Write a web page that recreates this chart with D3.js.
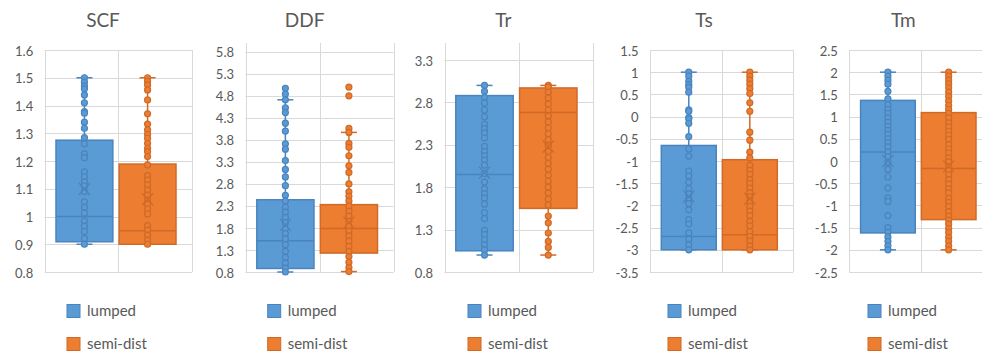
<!DOCTYPE html>
<html>
<head>
<meta charset="utf-8">
<script src="https://cdn.jsdelivr.net/npm/d3@7"></script>
<style>
  body { margin: 0; background: #fff; }
  svg { display: block; font-family: Lato, "Open Sans", sans-serif; }
</style>
</head>
<body>
<div id="chart"></div>
<script>
// data
const seriesNames = ['lumped', 'semi-dist'];
const titles = ['SCF', 'DDF', 'Tr', 'Ts', 'Tm'];

const scfLumped = [1.5, 1.484, 1.47, 1.46, 1.438, 1.41, 1.378, 1.372, 1.34, 1.318, 1.284, 1.262, 1.226, 1.212, 1.161, 1.143, 1.125, 1.11, 1.09, 1.053, 1.033, 1.012, 0.984, 0.965, 0.946, 0.921, 0.9];
const scfSemi = [1.5, 1.487, 1.474, 1.456, 1.42, 1.37, 1.333, 1.312, 1.296, 1.282, 1.264, 1.246, 1.234, 1.216, 1.186, 1.147, 1.131, 1.114, 1.095, 1.077, 1.059, 1.044, 1.027, 1.009, 0.967, 0.951, 0.933, 0.915, 0.9];

const ddfLumped = [4.97, 4.84, 4.71, 4.53, 4.42, 4.18, 4.0, 3.71, 3.59, 3.33, 3.13, 2.96, 2.76, 2.54, 2.41, 2.27, 2.16, 2.04, 1.92, 1.78, 1.67, 1.55, 1.42, 1.27, 1.13, 1.0, 0.89, 0.8];
const ddfSemi = [5.0, 4.8, 4.06, 3.97, 3.72, 3.63, 3.44, 3.21, 3.06, 2.8, 2.62, 2.52, 2.41, 2.3, 2.18, 2.07, 1.95, 1.84, 1.73, 1.62, 1.5, 1.38, 1.27, 1.15, 1.02, 0.9, 0.81];

const trLumped = [3.0, 2.93, 2.86, 2.79, 2.71, 2.63, 2.54, 2.49, 2.44, 2.38, 2.28, 2.22, 2.17, 2.12, 2.06, 1.96, 1.86, 1.78, 1.72, 1.67, 1.6, 1.5, 1.43, 1.29, 1.24, 1.18, 1.12, 1.06, 1.0];
const trSemi = [3.0, 2.98, 2.92, 2.85, 2.78, 2.71, 2.64, 2.57, 2.5, 2.43, 2.36, 2.29, 2.22, 2.15, 2.08, 2.01, 1.94, 1.87, 1.8, 1.73, 1.66, 1.59, 1.46, 1.38, 1.26, 1.16, 1.09, 1.0];

const tsLumped = [1.0, 0.91, 0.8, 0.72, 0.66, 0.55, 0.15, 0.12, -0.02, -0.05, -0.15, -0.45, -0.73, -0.89, -1.23, -1.34, -1.48, -1.62, -1.74, -1.85, -1.96, -2.1, -2.32, -2.42, -2.62, -2.76, -2.89, -3.0];
const tsSemi = [1.0, 0.91, 0.82, 0.73, 0.63, 0.52, 0.31, 0.12, -0.35, -0.53, -0.8, -0.93, -1.1, -1.21, -1.3, -1.42, -1.51, -1.61, -1.72, -1.81, -1.92, -2.02, -2.13, -2.23, -2.36, -2.46, -2.59, -2.7, -2.8, -2.91, -3.0];

const tmLumped = [2.0, 1.91, 1.82, 1.73, 1.57, 1.4, 1.27, 1.16, 1.07, 0.97, 0.87, 0.78, 0.69, 0.6, 0.5, 0.41, 0.32, 0.2, 0.1, -0.03, -0.19, -0.36, -0.61, -0.83, -0.91, -1.23, -1.5, -1.6, -1.71, -1.81, -1.91, -2.0];
const tmSemi = [2.0, 1.91, 1.82, 1.74, 1.65, 1.55, 1.45, 1.35, 1.25, 1.16, 1.07, 0.97, 0.86, 0.77, 0.67, 0.58, 0.49, 0.37, 0.27, 0.18, 0.07, -0.02, -0.12, -0.21, -0.31, -0.42, -0.52, -0.63, -0.72, -0.84, -0.93, -1.02, -1.14, -1.24, -1.33, -1.42, -1.52, -1.61, -1.72, -1.81, -1.91, -2.0];

// box statistics as shown (SCF, DDF, Tr, Ts, Tm)
const q1Lumped = [0.909, 0.88, 1.05, -3.0, -1.62];
const medianLumped = [1.0, 1.51, 1.95, -2.7, 0.2];
const q3Lumped = [1.275, 2.44, 2.88, -0.65, 1.365];
const meanLumped = [1.099, 1.87, 1.97, -1.8, 0.0];
const q1Semi = [0.9, 1.23, 1.55, -3.0, -1.32];
const medianSemi = [0.949, 1.79, 2.68, -2.66, -0.17];
const q3Semi = [1.189, 2.33, 2.97, -0.97, 1.09];
const meanSemi = [1.062, 1.92, 2.28, -1.85, -0.12];

const yMin = [0.8, 0.8, 0.8, -3.5, -2.5];
const yMax = [1.6, 6.0, 3.5, 1.5, 2.5];
const scfTicks = ['0.8', '0.9', '1', '1.1', '1.2', '1.3', '1.4', '1.5', '1.6'];
const ddfTicks = ['0.8', '1.3', '1.8', '2.3', '2.8', '3.3', '3.8', '4.3', '4.8', '5.3', '5.8'];
const trTicks = ['0.8', '1.3', '1.8', '2.3', '2.8', '3.3'];
const tsTicks = ['-3.5', '-3', '-2.5', '-2', '-1.5', '-1', '-0.5', '0', '0.5', '1', '1.5'];
const tmTicks = ['-2.5', '-2', '-1.5', '-1', '-0.5', '0', '0.5', '1', '1.5', '2', '2.5'];

const pointsLumped = [scfLumped, ddfLumped, trLumped, tsLumped, tmLumped];
const pointsSemi = [scfSemi, ddfSemi, trSemi, tsSemi, tmSemi];
const tickSets = [scfTicks, ddfTicks, trTicks, tsTicks, tmTicks];

// layout
const width = 982, height = 356;
const plotLeft = [44.7, 245.5, 444.5, 650, 849.3];
const plotRight = [192, 393.5, 593, 793.3, 992];
const plotTop = [50, 43, 43, 50, 50];
const plotBottom = 272;
const panelOrigin = [0, 200.7, 401, 601, 801];
const titleX = [103, 304.7, 503.3, 704, 903.3];
const fills = ['#5B9BD5', '#ED7D31'];
const strokes = ['#4A84BE', '#CF6A27'];
const textColor = '#595959';
const gridColor = '#D9D9D9';

const svg = d3.select('#chart').append('svg')
  .attr('width', width)
  .attr('height', height);

titles.forEach((title, i) => {
  const g = svg.append('g');
  const y = d3.scaleLinear().domain([yMin[i], yMax[i]]).range([plotBottom, plotTop[i]]);
  const x = d3.scaleBand().domain(seriesNames)
    .range([plotLeft[i] + 11.3, plotRight[i] - 16])
    .paddingInner(0.1);
  const ticks = tickSets[i];

  // title
  g.append('text')
    .attr('x', titleX[i]).attr('y', 27)
    .attr('text-anchor', 'middle')
    .attr('font-size', 19)
    .attr('fill', textColor)
    .text(title);

  // horizontal gridlines
  g.selectAll('line.h').data(ticks).enter().append('line')
    .attr('x1', plotLeft[i]).attr('x2', plotRight[i])
    .attr('y1', d => Math.round(y(+d)) + 0.5).attr('y2', d => Math.round(y(+d)) + 0.5)
    .attr('stroke', gridColor).attr('stroke-width', 1);

  // vertical gridlines
  const mid = (plotLeft[i] + plotRight[i]) / 2;
  [plotLeft[i], mid, plotRight[i]].forEach(vx => {
    g.append('line')
      .attr('x1', Math.round(vx) + 0.5).attr('x2', Math.round(vx) + 0.5)
      .attr('y1', plotTop[i]).attr('y2', plotBottom)
      .attr('stroke', gridColor).attr('stroke-width', 1);
  });

  // tick labels
  g.selectAll('text.tick').data(ticks).enter().append('text')
    .attr('x', plotLeft[i] - 11.5)
    .attr('y', d => y(+d) + 1)
    .attr('dy', '0.35em')
    .attr('text-anchor', 'end')
    .attr('font-size', 13)
    .attr('fill', textColor)
    .text(d => d);

  const stats = [
    { q1: q1Lumped[i], med: medianLumped[i], q3: q3Lumped[i], mean: meanLumped[i], pts: pointsLumped[i] },
    { q1: q1Semi[i], med: medianSemi[i], q3: q3Semi[i], mean: meanSemi[i], pts: pointsSemi[i] }
  ];

  stats.forEach((s, k) => {
    const name = seriesNames[k];
    const x0 = x(name), bw = x.bandwidth(), cx = x0 + bw / 2;
    const iqr = s.q3 - s.q1;
    const hi = d3.max(s.pts.filter(v => v <= s.q3 + 1.5 * iqr));
    const lo = d3.min(s.pts.filter(v => v >= s.q1 - 1.5 * iqr));

    // whiskers
    g.append('line')
      .attr('x1', cx).attr('x2', cx)
      .attr('y1', y(s.q3)).attr('y2', y(hi))
      .attr('stroke', strokes[k]).attr('stroke-width', 1.5);
    g.append('line')
      .attr('x1', cx).attr('x2', cx)
      .attr('y1', y(s.q1)).attr('y2', y(lo))
      .attr('stroke', strokes[k]).attr('stroke-width', 1.5);
    [hi, lo].forEach(v => {
      g.append('line')
        .attr('x1', cx - 8).attr('x2', cx + 8)
        .attr('y1', y(v)).attr('y2', y(v))
        .attr('stroke', strokes[k]).attr('stroke-width', 1.5);
    });

    // box
    g.append('rect')
      .attr('x', x0).attr('width', bw)
      .attr('y', y(s.q3)).attr('height', y(s.q1) - y(s.q3))
      .attr('fill', fills[k])
      .attr('stroke', strokes[k]).attr('stroke-width', 1.5);

    // median
    g.append('line')
      .attr('x1', x0).attr('x2', x0 + bw)
      .attr('y1', y(s.med)).attr('y2', y(s.med))
      .attr('stroke', strokes[k]).attr('stroke-width', 1.5);

    // points
    g.selectAll('circle.p' + k).data(s.pts).enter().append('circle')
      .attr('cx', cx).attr('cy', d => y(d))
      .attr('r', 3)
      .attr('fill', fills[k])
      .attr('stroke', strokes[k]).attr('stroke-width', 1.2);

    // mean marker
    const my = y(s.mean);
    g.append('path')
      .attr('d', `M${cx - 5.5},${my - 6}L${cx + 5.5},${my + 6}M${cx - 5.5},${my + 6}L${cx + 5.5},${my - 6}`)
      .attr('stroke', strokes[k]).attr('stroke-width', 1.3)
      .attr('fill', 'none');
  });

  // legend
  seriesNames.forEach((name, k) => {
    const ly = 304.5 + k * 33;
    g.append('rect')
      .attr('x', panelOrigin[i] + 67).attr('y', ly)
      .attr('width', 13).attr('height', 13)
      .attr('fill', fills[k])
      .attr('stroke', strokes[k]).attr('stroke-width', 1);
    g.append('text')
      .attr('x', panelOrigin[i] + 87).attr('y', ly + 11.5)
      .attr('font-size', 15)
      .attr('fill', textColor)
      .text(name);
  });
});
</script>
</body>
</html>
